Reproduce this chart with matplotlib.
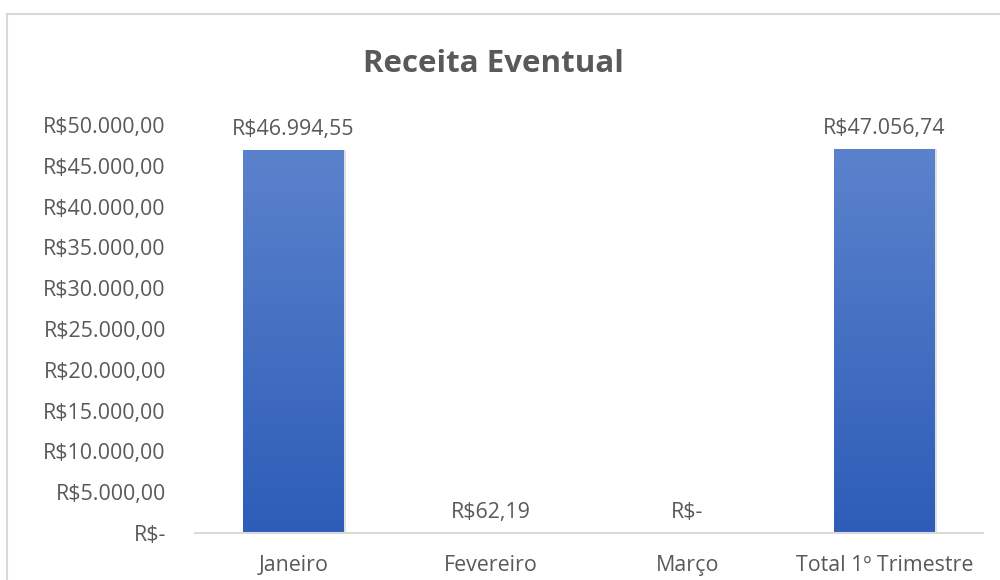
import numpy as np
import matplotlib.pyplot as plt
from matplotlib.patches import Rectangle
from matplotlib.ticker import FuncFormatter
from matplotlib.colors import LinearSegmentedColormap

categorias = ['Janeiro', 'Fevereiro', 'Março', 'Total 1º Trimestre']
valores = [46994.55, 62.19, 0.0, 47056.74]
rotulos = ['R$46.994,55', 'R$62,19', 'R$-', 'R$47.056,74']

cinza = '#595959'
plt.rcParams['font.family'] = ['Open Sans', 'DejaVu Sans']
tam = 15.4


def formato_real(v, pos):
    if v == 0:
        return 'R$-'
    s = f'{v:,.2f}'.replace(',', 'X').replace('.', ',').replace('X', '.')
    return 'R$' + s


fig = plt.figure(figsize=(10, 5.8), dpi=100)
ax = fig.add_axes([0.195, 1 - 533 / 580, 0.788, 408 / 580])

# borda do gráfico (estilo Excel)
fig.patches.append(Rectangle((0.007, -0.1), 1.2, 1.1 - 14 / 580, transform=fig.transFigure,
                             fill=False, edgecolor='#D9D9D9', linewidth=1.5))

x = np.arange(len(categorias))
barras = ax.bar(x, valores, width=0.51, color='none', edgecolor='none', zorder=2)

# degradê azul nas barras
grad = np.linspace(0, 1, 256).reshape(-1, 1)
cmap = LinearSegmentedColormap.from_list('azul', ['#2D5DB8', '#5B82CC'])
for b in barras:
    h = b.get_height()
    if h <= 0:
        continue
    x0, w = b.get_x(), b.get_width()
    # sombra leve
    ax.add_patch(Rectangle((x0 + 0.012, 0), w, h, color='#000000', alpha=0.12, zorder=1, linewidth=0))
    im = ax.imshow(grad, extent=(x0, x0 + w, 0, h), origin='lower', aspect='auto', cmap=cmap, zorder=2)
    im.set_clip_path(b)

for xi, v, r in zip(x, valores, rotulos):
    ax.annotate(r, (xi, v), xytext=(0, 7), textcoords='offset points',
                ha='center', va='bottom', fontsize=tam, color=cinza)

ax.set_xlim(-0.5, len(categorias) - 0.5)
ax.set_ylim(0, 50000)
ax.set_yticks(np.arange(0, 50001, 5000))
ax.yaxis.set_major_formatter(FuncFormatter(formato_real))
ax.set_xticks(x)
ax.set_xticklabels(categorias)

for s in ['top', 'right', 'left']:
    ax.spines[s].set_visible(False)
ax.spines['bottom'].set_color('#D9D9D9')
ax.spines['bottom'].set_linewidth(1.5)
ax.tick_params(axis='y', length=0, pad=21, labelsize=tam, labelcolor=cinza)
ax.tick_params(axis='x', length=0, pad=16, labelsize=tam, labelcolor=cinza)

fig.text(0.493, 1 - 64 / 580, 'Receita Eventual', ha='center', va='center',
         fontsize=22.5, fontweight='bold', color=cinza)

fig.savefig('out.png', dpi=100)
